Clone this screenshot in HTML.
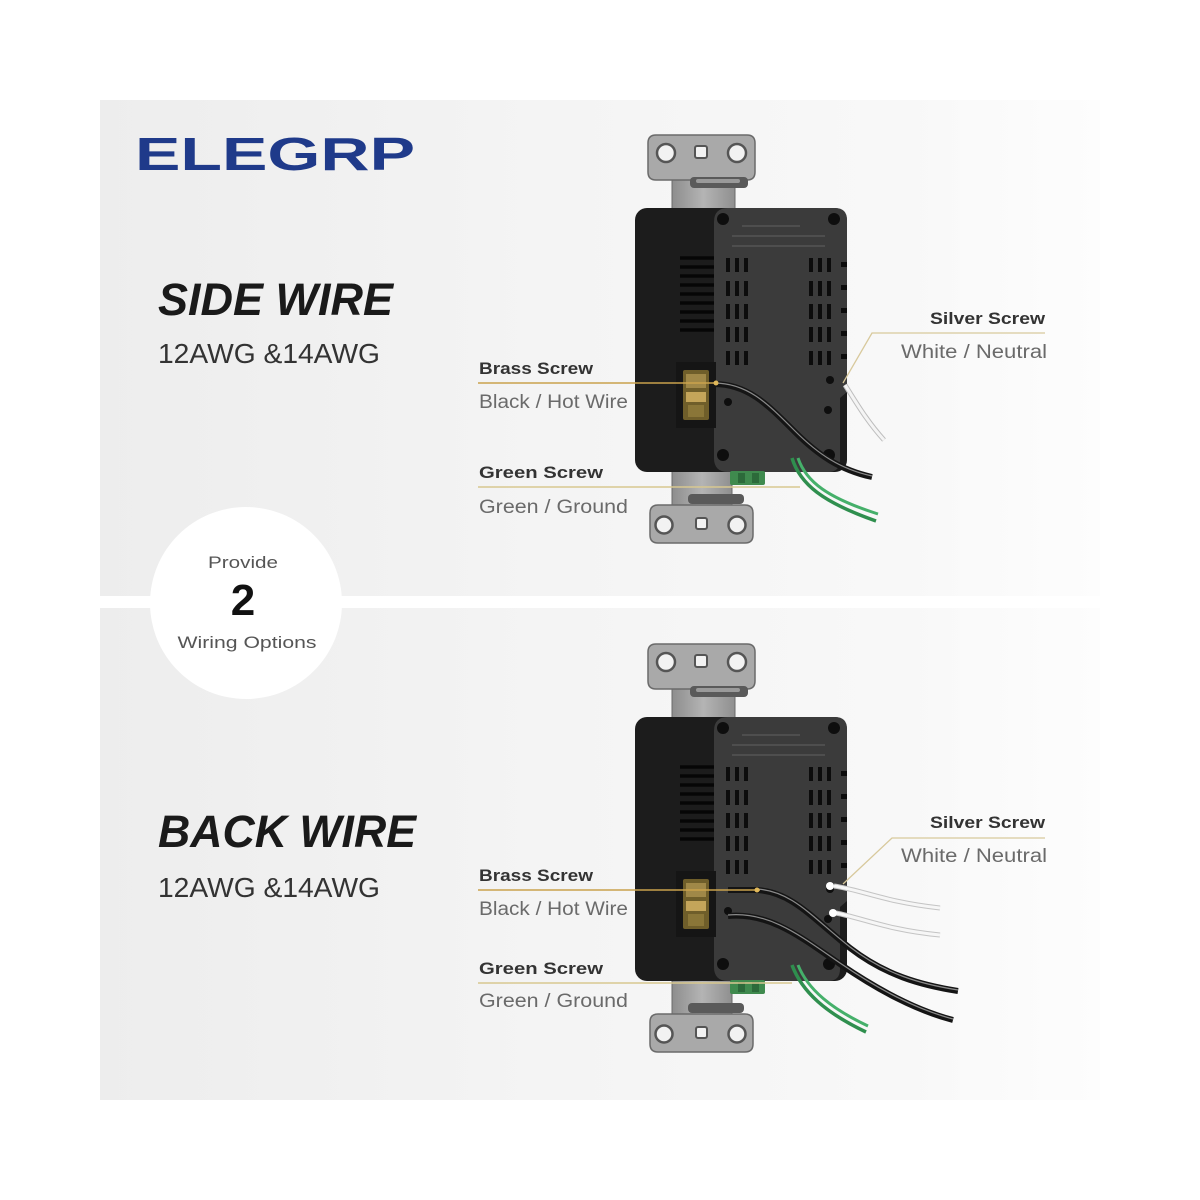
<!DOCTYPE html>
<html>
<head>
<meta charset="utf-8">
<style>
  html,body{margin:0;padding:0;background:#ffffff;}
  svg{display:block;}
  text{font-family:"Liberation Sans",sans-serif;}
</style>
</head>
<body>
<svg width="1200" height="1200" viewBox="0 0 1200 1200" xmlns="http://www.w3.org/2000/svg">
  <defs>
    <linearGradient id="bg" x1="0" y1="0" x2="1" y2="0">
      <stop offset="0" stop-color="#ededed"/>
      <stop offset="0.45" stop-color="#f4f4f4"/>
      <stop offset="0.8" stop-color="#f8f8f8"/>
      <stop offset="1" stop-color="#fdfdfd"/>
    </linearGradient>
    <linearGradient id="strap" x1="0" y1="0" x2="1" y2="0">
      <stop offset="0" stop-color="#8d8d8d"/>
      <stop offset="0.5" stop-color="#b4b4b4"/>
      <stop offset="1" stop-color="#8f8f8f"/>
    </linearGradient>
    <g id="dev">
      <!-- top strap -->
      <rect x="672" y="170" width="63" height="45" fill="url(#strap)" stroke="#6a6a6a" stroke-width="1"/>
      <path d="M656 135 H747 Q755 135 755 143 V172 Q755 180 747 180 H656 Q648 180 648 172 V143 Q648 135 656 135 Z" fill="#a9a9a9" stroke="#6a6a6a" stroke-width="1.5"/>
      <circle cx="666" cy="153" r="9" fill="#f2f2f2" stroke="#555" stroke-width="2.5"/>
      <circle cx="737" cy="153" r="9" fill="#f2f2f2" stroke="#555" stroke-width="2.5"/>
      <rect x="695" y="146" width="12" height="12" rx="2" fill="#f2f2f2" stroke="#555" stroke-width="2"/>
      <rect x="690" y="177" width="58" height="11" rx="4" fill="#5a5a5a"/>
      <rect x="696" y="179" width="44" height="4" rx="2" fill="#9a9a9a"/>
      <!-- bottom strap -->
      <rect x="672" y="460" width="60" height="48" fill="url(#strap)" stroke="#6a6a6a" stroke-width="1"/>
      <path d="M658 505 H745 Q753 505 753 513 V535 Q753 543 745 543 H658 Q650 543 650 535 V513 Q650 505 658 505 Z" fill="#a9a9a9" stroke="#6a6a6a" stroke-width="1.5"/>
      <circle cx="664" cy="525" r="8.5" fill="#f2f2f2" stroke="#555" stroke-width="2.5"/>
      <circle cx="737" cy="525" r="8.5" fill="#f2f2f2" stroke="#555" stroke-width="2.5"/>
      <rect x="696" y="518" width="11" height="11" rx="2" fill="#f2f2f2" stroke="#555" stroke-width="2"/>
      <rect x="688" y="494" width="56" height="10" rx="4" fill="#5a5a5a"/>
      <!-- body -->
      <rect x="635" y="208" width="212" height="264" rx="12" fill="#1c1c1c"/>
      <!-- back cover -->
      <path d="M728 208 H835 Q847 208 847 220 V392 L840 398 V460 Q840 472 828 472 H728 Q714 472 714 458 V222 Q714 208 728 208 Z" fill="#3b3b3b"/>
      <!-- green screw at bottom edge -->
      <rect x="730" y="471" width="35" height="14" rx="2" fill="#3f8a4e"/>
      <rect x="738" y="473" width="7" height="10" fill="#2c6a3a"/>
      <rect x="752" y="473" width="7" height="10" fill="#2c6a3a"/>
      <!-- side vents -->
      <g stroke="#060606" stroke-width="3.5">
        <line x1="680" y1="258" x2="714" y2="258"/>
        <line x1="680" y1="267" x2="714" y2="267"/>
        <line x1="680" y1="276" x2="714" y2="276"/>
        <line x1="680" y1="285" x2="714" y2="285"/>
        <line x1="680" y1="294" x2="714" y2="294"/>
        <line x1="680" y1="303" x2="714" y2="303"/>
        <line x1="680" y1="312" x2="714" y2="312"/>
        <line x1="680" y1="321" x2="714" y2="321"/>
        <line x1="680" y1="330" x2="714" y2="330"/>
      </g>
      <!-- cover text lines -->
      <g stroke="#555" stroke-width="1.5">
        <line x1="742" y1="226" x2="800" y2="226"/>
        <line x1="732" y1="236" x2="825" y2="236"/>
        <line x1="732" y1="246" x2="825" y2="246"/>
      </g>
      <!-- cover slots -->
      <g fill="#0c0c0c">
        <rect x="726" y="258" width="4" height="14"/><rect x="735" y="258" width="4" height="14"/><rect x="744" y="258" width="4" height="14"/>
        <rect x="726" y="281" width="4" height="15"/><rect x="735" y="281" width="4" height="15"/><rect x="744" y="281" width="4" height="15"/>
        <rect x="726" y="304" width="4" height="15"/><rect x="735" y="304" width="4" height="15"/><rect x="744" y="304" width="4" height="15"/>
        <rect x="726" y="327" width="4" height="15"/><rect x="735" y="327" width="4" height="15"/><rect x="744" y="327" width="4" height="15"/>
        <rect x="726" y="351" width="4" height="14"/><rect x="735" y="351" width="4" height="14"/><rect x="744" y="351" width="4" height="14"/>
        <rect x="809" y="258" width="4" height="14"/><rect x="818" y="258" width="4" height="14"/><rect x="827" y="258" width="4" height="14"/>
        <rect x="809" y="281" width="4" height="15"/><rect x="818" y="281" width="4" height="15"/><rect x="827" y="281" width="4" height="15"/>
        <rect x="809" y="304" width="4" height="15"/><rect x="818" y="304" width="4" height="15"/><rect x="827" y="304" width="4" height="15"/>
        <rect x="809" y="327" width="4" height="15"/><rect x="818" y="327" width="4" height="15"/><rect x="827" y="327" width="4" height="15"/>
        <rect x="809" y="351" width="4" height="14"/><rect x="818" y="351" width="4" height="14"/><rect x="827" y="351" width="4" height="14"/>
        <rect x="841" y="262" width="6" height="5"/><rect x="841" y="285" width="6" height="5"/><rect x="841" y="308" width="6" height="5"/><rect x="841" y="331" width="6" height="5"/><rect x="841" y="354" width="6" height="5"/>
      </g>
      <!-- screws on cover -->
      <g fill="#0e0e0e">
        <circle cx="723" cy="219" r="6"/>
        <circle cx="834" cy="219" r="6"/>
        <circle cx="723" cy="455" r="6"/>
        <circle cx="829" cy="455" r="6"/>
        <circle cx="830" cy="380" r="4"/>
        <circle cx="828" cy="410" r="4"/>
        <circle cx="728" cy="402" r="4"/>
      </g>
      <!-- side terminal area -->
      <rect x="676" y="362" width="40" height="66" fill="#151515"/>
      <rect x="683" y="370" width="26" height="50" rx="2" fill="#6f5e2a"/>
      <rect x="686" y="374" width="20" height="14" fill="#a08848"/>
      <rect x="686" y="392" width="20" height="10" fill="#c4a55a"/>
      <rect x="688" y="405" width="16" height="12" fill="#8a7638"/>
    </g>
  </defs>

  <!-- panels -->
  <rect x="100" y="100" width="1000" height="496" fill="url(#bg)"/>
  <rect x="100" y="608" width="1000" height="492" fill="url(#bg)"/>

  <!-- logo -->
  <text x="135" y="170" font-size="46" font-weight="bold" fill="#1f3a8a" textLength="280" lengthAdjust="spacingAndGlyphs">ELEGRP</text>

  <!-- headings -->
  <text x="158" y="315" font-size="45" font-weight="bold" font-style="italic" fill="#1a1a1a" textLength="235" lengthAdjust="spacingAndGlyphs">SIDE WIRE</text>
  <text x="158" y="363" font-size="28" fill="#333" textLength="222" lengthAdjust="spacingAndGlyphs">12AWG &amp;14AWG</text>
  <text x="158" y="847" font-size="45" font-weight="bold" font-style="italic" fill="#1a1a1a" textLength="258" lengthAdjust="spacingAndGlyphs">BACK WIRE</text>
  <text x="158" y="897" font-size="28" fill="#333" textLength="222" lengthAdjust="spacingAndGlyphs">12AWG &amp;14AWG</text>

  <!-- circle -->
  <circle cx="246" cy="603" r="96" fill="#ffffff"/>
  <text x="243" y="568" font-size="17" fill="#555" text-anchor="middle" textLength="70" lengthAdjust="spacingAndGlyphs">Provide</text>
  <text x="243" y="615" font-size="44" font-weight="bold" fill="#111" text-anchor="middle">2</text>
  <text x="247" y="648" font-size="17" fill="#555" text-anchor="middle" textLength="139" lengthAdjust="spacingAndGlyphs">Wiring Options</text>

  <!-- devices -->
  <use href="#dev"/>
  <use href="#dev" transform="translate(0,509)"/>

  <!-- TOP wires -->
  <path d="M845 385 C856 402, 866 420, 884 440" fill="none" stroke="#bdbdbd" stroke-width="5"/>
  <path d="M845 385 C856 402, 866 420, 884 440" fill="none" stroke="#f4f4f4" stroke-width="3"/>
  <path d="M714 384 C748 384, 768 405, 795 432 C818 455, 840 470, 872 477" fill="none" stroke="#151515" stroke-width="6"/>
  <path d="M714 383 C748 383, 768 404, 795 431 C818 454, 840 469, 872 476" fill="none" stroke="#8a8a8a" stroke-width="1.2"/>
  <path d="M792 458 C800 484, 822 502, 876 521" fill="none" stroke="#2f8f4e" stroke-width="3.5"/>
  <path d="M798 458 C806 482, 828 498, 878 514" fill="none" stroke="#45b06a" stroke-width="3"/>

  <!-- TOP connectors -->
  <line x1="478" y1="383" x2="718" y2="383" stroke="#caa24c" stroke-width="1.6"/>
  <circle cx="716" cy="383" r="2.5" fill="#e0b85a"/>
  <line x1="478" y1="487" x2="800" y2="487" stroke="#d8c890" stroke-width="1.4"/>
  <polyline points="1045,333 872,333 843,383" fill="none" stroke="#d8c99c" stroke-width="1.3"/>

  <!-- TOP labels -->
  <text x="479" y="374" font-size="17" font-weight="bold" fill="#333" textLength="114" lengthAdjust="spacingAndGlyphs">Brass Screw</text>
  <text x="479" y="408" font-size="19" fill="#6a6a6a" textLength="149" lengthAdjust="spacingAndGlyphs">Black / Hot Wire</text>
  <text x="479" y="478" font-size="17" font-weight="bold" fill="#333" textLength="124" lengthAdjust="spacingAndGlyphs">Green Screw</text>
  <text x="479" y="513" font-size="19" fill="#6a6a6a" textLength="149" lengthAdjust="spacingAndGlyphs">Green / Ground</text>
  <text x="1045" y="324" font-size="17" font-weight="bold" fill="#333" text-anchor="end" textLength="115" lengthAdjust="spacingAndGlyphs">Silver Screw</text>
  <text x="1047" y="358" font-size="19" fill="#6a6a6a" text-anchor="end" textLength="146" lengthAdjust="spacingAndGlyphs">White / Neutral</text>

  <!-- BOTTOM wires -->
  <path d="M834 886 C862 890, 885 902, 940 908" fill="none" stroke="#c4c4c4" stroke-width="5"/>
  <path d="M834 886 C862 890, 885 902, 940 908" fill="none" stroke="#f6f6f6" stroke-width="3"/>
  <path d="M836 913 C862 918, 888 930, 940 935" fill="none" stroke="#c4c4c4" stroke-width="5"/>
  <path d="M836 913 C862 918, 888 930, 940 935" fill="none" stroke="#f6f6f6" stroke-width="3"/>
  <circle cx="830" cy="886" r="4" fill="#ffffff"/>
  <circle cx="833" cy="913" r="4" fill="#ffffff"/>
  <path d="M728 890 L757 890 C792 892, 812 918, 850 948 C885 975, 920 985, 958 991" fill="none" stroke="#141414" stroke-width="6"/>
  <path d="M757 889 C792 891, 812 917, 850 947 C885 974, 920 984, 958 990" fill="none" stroke="#8a8a8a" stroke-width="1.2"/>
  <path d="M728 916 C770 912, 802 938, 840 964 C878 990, 915 1010, 953 1020" fill="none" stroke="#141414" stroke-width="6"/>
  <path d="M728 915 C770 911, 802 937, 840 963 C878 989, 915 1009, 953 1019" fill="none" stroke="#8a8a8a" stroke-width="1.2"/>
  <path d="M792 965 C802 992, 826 1013, 866 1032" fill="none" stroke="#2f8f4e" stroke-width="3.5"/>
  <path d="M798 965 C808 990, 832 1009, 868 1026" fill="none" stroke="#45b06a" stroke-width="3"/>

  <!-- BOTTOM connectors -->
  <line x1="478" y1="890" x2="760" y2="890" stroke="#caa24c" stroke-width="1.6"/>
  <circle cx="757" cy="890" r="2.5" fill="#e0b85a"/>
  <line x1="478" y1="983" x2="792" y2="983" stroke="#d8c890" stroke-width="1.4"/>
  <polyline points="1045,838 892,838 843,884" fill="none" stroke="#d8c99c" stroke-width="1.3"/>

  <!-- BOTTOM labels -->
  <text x="479" y="881" font-size="17" font-weight="bold" fill="#333" textLength="114" lengthAdjust="spacingAndGlyphs">Brass Screw</text>
  <text x="479" y="915" font-size="19" fill="#6a6a6a" textLength="149" lengthAdjust="spacingAndGlyphs">Black / Hot Wire</text>
  <text x="479" y="974" font-size="17" font-weight="bold" fill="#333" textLength="124" lengthAdjust="spacingAndGlyphs">Green Screw</text>
  <text x="479" y="1007" font-size="19" fill="#6a6a6a" textLength="149" lengthAdjust="spacingAndGlyphs">Green / Ground</text>
  <text x="1045" y="828" font-size="17" font-weight="bold" fill="#333" text-anchor="end" textLength="115" lengthAdjust="spacingAndGlyphs">Silver Screw</text>
  <text x="1047" y="862" font-size="19" fill="#6a6a6a" text-anchor="end" textLength="146" lengthAdjust="spacingAndGlyphs">White / Neutral</text>
</svg>
</body>
</html>
